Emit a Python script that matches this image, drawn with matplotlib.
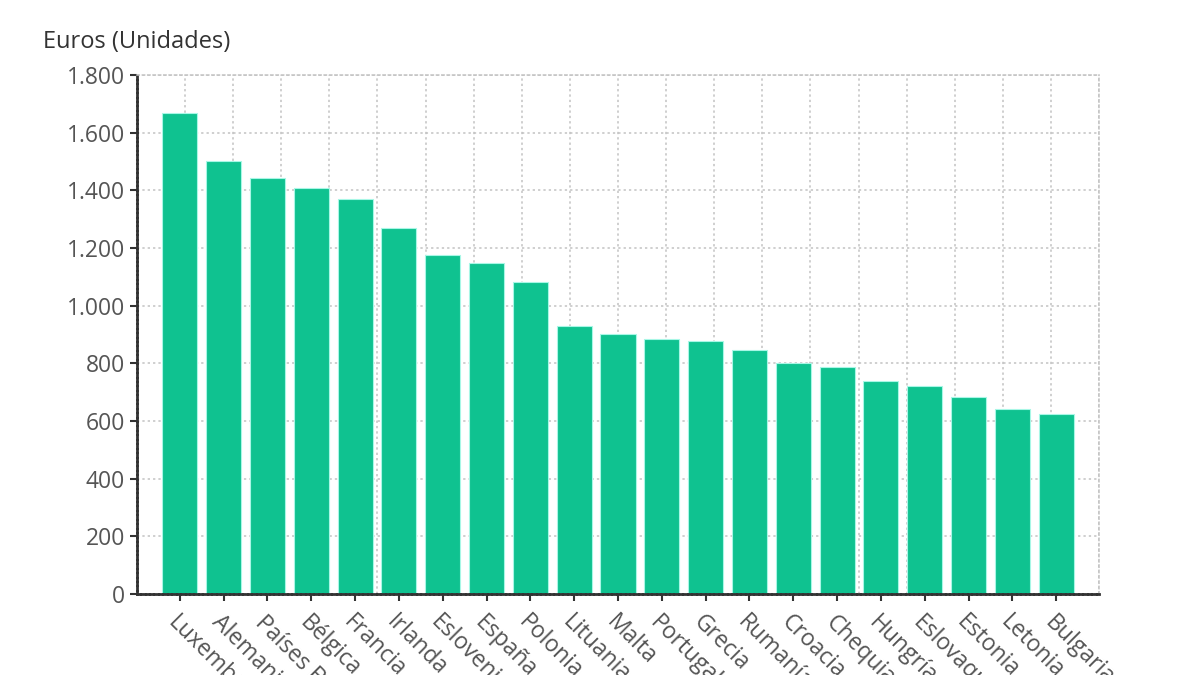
import numpy as np
import matplotlib.pyplot as plt
from matplotlib.ticker import FuncFormatter

plt.rcParams['font.family'] = ['Open Sans', 'DejaVu Sans']

# datos (euros)
paises = ['Luxemburgo', 'Alemania', 'Países Bajos', 'Bélgica', 'Francia', 'Irlanda',
          'Eslovenia', 'España', 'Polonia', 'Lituania', 'Malta', 'Portugal', 'Grecia',
          'Rumanía', 'Croacia', 'Chequia', 'Hungría', 'Eslovaquia', 'Estonia',
          'Letonia', 'Bulgaria']
valores = [1667, 1502, 1442, 1409, 1369, 1269, 1175, 1148, 1081, 931, 902, 883,
           876, 847, 802, 786, 739, 720, 684, 643, 623]
yticks = list(range(0, 1801, 200))

fig = plt.figure(figsize=(12, 6.75), dpi=100)
ax = fig.add_axes([0.114, 0.12, 0.802, 0.769])

x = np.arange(len(paises))
ax.bar(x, valores, width=0.8, color='#0FC290', edgecolor='#a8f7e6', linewidth=0.8, zorder=2)

ax.set_xlim(-0.98, len(paises) - 0.02)
ax.set_ylim(0, 1800)
ax.set_yticks(yticks)
ax.yaxis.set_major_formatter(FuncFormatter(lambda v, p: f"{int(v):,}".replace(',', '.')))
ax.set_xticks(x)
ax.set_xticklabels(paises, rotation=-45, ha='left', va='top', rotation_mode='anchor',
                   fontsize=16)

# rejilla punteada
grid_kw = dict(color='#c2c2c2', linestyle=(0, (1.5, 2)), linewidth=1.1)
ax.yaxis.grid(True, zorder=0, **grid_kw)
for f in np.linspace(0, 1, 21):
    ax.plot([f, f], [0, 1], transform=ax.transAxes, zorder=0, **grid_kw)
ax.set_axisbelow(True)

for s in ['top', 'right']:
    ax.spines[s].set_color('#c2c2c2')
    ax.spines[s].set_linestyle((0, (1.5, 2)))
    ax.spines[s].set_linewidth(1.1)
for s in ['left', 'bottom']:
    ax.spines[s].set_color('#333333')
    ax.spines[s].set_linewidth(2)
    ax.spines[s].set_linestyle((0, (1, 0.6)))

ax.tick_params(axis='both', colors='#333333', labelcolor='#555555', labelsize=16.5,
               length=5, width=1.5)
ax.tick_params(axis='x', pad=7)

fig.text(0.036, 0.938, 'Euros (Unidades)', fontsize=17, color='#333333', va='center')

fig.savefig('out.png', dpi=100)
